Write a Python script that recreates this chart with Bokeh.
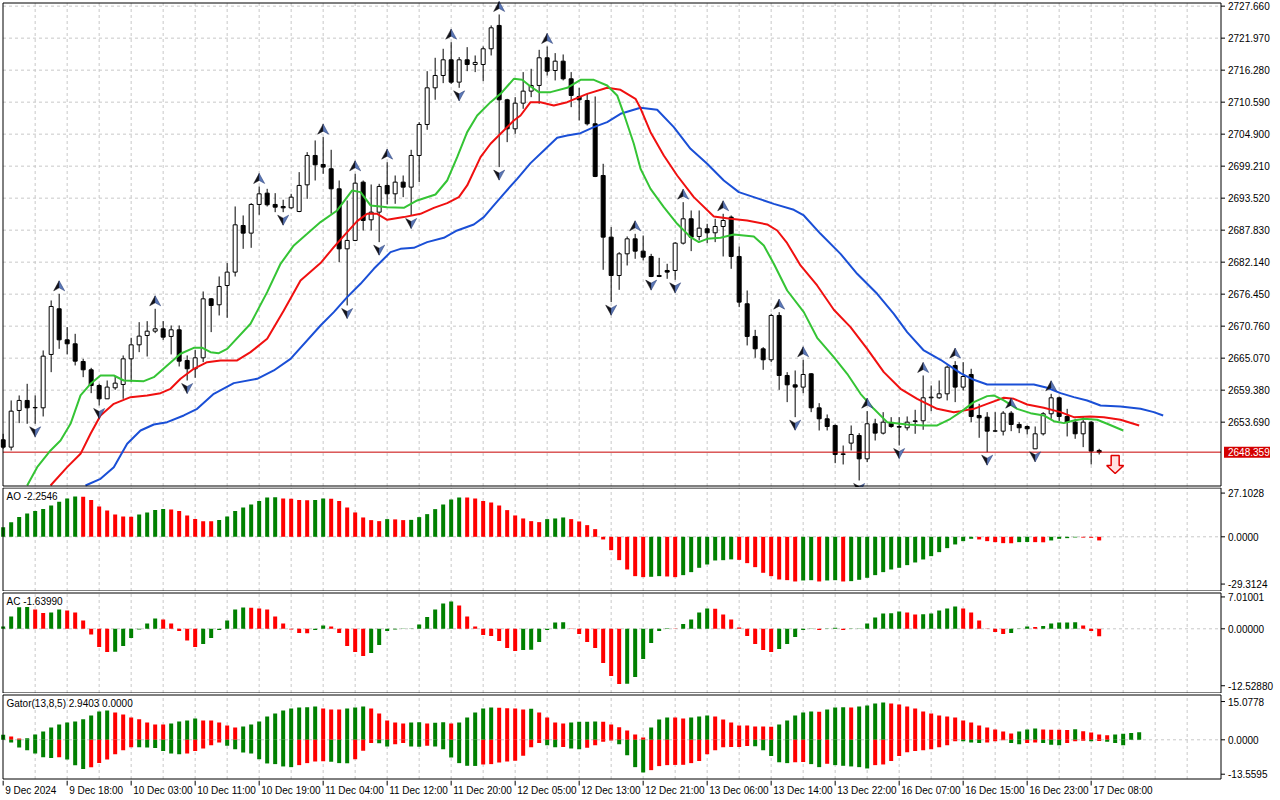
from bokeh.plotting import figure
from bokeh.models import Range1d
from bokeh.layouts import column
from bokeh.embed import file_html
from bokeh.resources import INLINE
from bokeh.core.properties import value

# ---------------- DATA ----------------
bars = list(range(138))
opens = [2650.55, 2649.25, 2655.77, 2657.55, 2656.24, 2656.24, 2665.73, 2673.85, 2668.33, 2667.62,
         2664.48, 2663.00, 2660.21, 2657.84, 2659.80, 2660.39, 2664.95, 2667.44, 2669.10, 2669.87,
         2670.29, 2668.93, 2670.11, 2664.66, 2663.18, 2665.13, 2675.62, 2674.56, 2677.99, 2680.37,
         2688.66, 2687.30, 2692.40, 2694.41, 2692.40, 2692.04, 2691.80, 2691.15, 2695.89, 2701.11,
         2699.51, 2698.74, 2695.18, 2684.51, 2686.00, 2696.37, 2689.67, 2691.03, 2695.78, 2694.29,
         2696.37, 2695.48, 2701.11, 2706.62, 2713.14, 2715.33, 2718.12, 2714.15, 2718.12, 2717.29,
         2717.29, 2720.08, 2724.23, 2711.01, 2705.85, 2710.41, 2712.55, 2713.56, 2718.48, 2716.22,
         2717.88, 2714.74, 2711.60, 2710.89, 2706.74, 2697.55, 2686.59, 2679.77, 2683.62, 2686.29,
         2684.10, 2683.15, 2679.77, 2680.66, 2680.66, 2685.52, 2689.85, 2686.71, 2688.07, 2687.36,
         2688.48, 2690.15, 2683.15, 2674.74, 2668.93, 2666.73, 2664.78, 2672.66, 2661.99, 2660.33,
         2659.92, 2662.29, 2656.24, 2654.29, 2653.10, 2647.94, 2649.96, 2651.32, 2647.17, 2653.40,
         2651.74, 2653.52, 2652.92, 2652.69, 2653.81, 2653.93, 2658.02, 2658.02, 2658.73, 2663.77,
         2659.92, 2662.17, 2654.88, 2654.58, 2652.09, 2652.09, 2655.29, 2653.28, 2652.92, 2648.95,
         2651.62, 2655.18, 2658.02, 2654.70, 2653.69, 2651.62, 2653.69, 2648.66]
highs = [2651.62, 2657.55, 2658.44, 2660.51, 2658.44, 2666.44, 2675.33, 2676.51, 2670.59, 2669.40,
         2664.95, 2663.35, 2660.51, 2661.10, 2661.81, 2665.55, 2668.69, 2671.47, 2671.65, 2673.85,
         2671.65, 2670.88, 2670.88, 2665.55, 2666.56, 2676.93, 2675.74, 2679.59, 2681.97, 2692.04,
         2690.44, 2692.63, 2695.60, 2695.18, 2694.41, 2693.23, 2694.29, 2698.15, 2701.70, 2703.78,
         2704.37, 2702.12, 2696.66, 2693.11, 2697.85, 2696.66, 2695.95, 2696.07, 2699.92, 2697.55,
         2697.55, 2702.12, 2707.04, 2716.10, 2718.48, 2720.08, 2721.26, 2718.60, 2720.37, 2718.89,
         2720.49, 2724.23, 2726.18, 2711.19, 2711.48, 2715.93, 2716.52, 2719.90, 2720.49, 2719.31,
         2719.07, 2715.93, 2713.14, 2712.07, 2711.60, 2699.63, 2688.37, 2683.92, 2686.71, 2687.18,
         2686.88, 2683.62, 2682.91, 2681.85, 2685.70, 2692.81, 2691.33, 2691.33, 2688.96, 2689.85,
         2690.74, 2690.44, 2684.93, 2677.10, 2670.11, 2667.03, 2672.96, 2673.25, 2662.58, 2662.88,
         2664.78, 2662.41, 2657.07, 2655.06, 2653.28, 2649.54, 2653.10, 2651.74, 2655.65, 2654.29,
         2655.47, 2654.58, 2654.58, 2654.70, 2655.89, 2661.99, 2660.21, 2661.10, 2663.77, 2664.54,
         2664.36, 2663.18, 2656.95, 2655.47, 2655.47, 2655.65, 2655.65, 2653.69, 2653.10, 2652.92,
         2655.47, 2658.73, 2658.26, 2656.06, 2654.29, 2654.70, 2653.87, 2648.95]
lows = [2648.95, 2648.66, 2653.52, 2653.40, 2653.40, 2654.70, 2662.58, 2666.73, 2665.73, 2663.77,
        2661.69, 2658.85, 2656.66, 2657.84, 2659.44, 2657.84, 2660.81, 2666.14, 2665.37, 2669.52,
        2668.33, 2665.73, 2663.59, 2661.10, 2661.58, 2664.36, 2669.70, 2672.66, 2672.25, 2679.59,
        2684.51, 2684.69, 2690.56, 2692.04, 2691.03, 2691.03, 2691.63, 2691.03, 2693.40, 2696.66,
        2697.85, 2690.74, 2682.14, 2674.44, 2685.88, 2687.77, 2687.77, 2685.70, 2692.40, 2692.52,
        2693.70, 2690.44, 2696.37, 2705.67, 2711.01, 2713.97, 2713.85, 2713.14, 2716.10, 2715.93,
        2714.33, 2718.89, 2699.04, 2703.48, 2704.96, 2709.41, 2711.48, 2710.30, 2715.33, 2714.45,
        2714.45, 2709.70, 2707.33, 2706.44, 2697.26, 2680.78, 2675.03, 2677.22, 2681.55, 2682.74,
        2682.44, 2679.48, 2679.48, 2679.18, 2679.00, 2685.28, 2684.10, 2686.00, 2685.52, 2685.70,
        2683.15, 2680.96, 2674.14, 2667.33, 2665.13, 2663.00, 2664.36, 2659.44, 2657.25, 2654.58,
        2658.85, 2655.47, 2652.21, 2652.21, 2646.40, 2646.17, 2648.66, 2643.32, 2646.58, 2650.43,
        2651.50, 2652.69, 2649.54, 2652.21, 2651.62, 2652.33, 2655.65, 2657.84, 2657.55, 2657.25,
        2659.32, 2653.69, 2650.91, 2648.36, 2651.92, 2651.32, 2652.09, 2651.74, 2651.50, 2648.95,
        2651.32, 2654.29, 2653.87, 2651.15, 2650.73, 2649.25, 2646.17, 2647.94]
closes = [2649.25, 2655.65, 2657.55, 2656.24, 2656.30, 2665.43, 2674.26, 2668.33, 2667.62, 2664.54,
          2663.00, 2660.21, 2657.84, 2659.92, 2660.63, 2664.95, 2667.44, 2668.99, 2669.87, 2670.29,
          2668.81, 2670.11, 2664.54, 2663.18, 2665.13, 2675.62, 2674.44, 2677.82, 2680.37, 2688.78,
          2687.30, 2692.40, 2694.29, 2692.34, 2691.92, 2691.80, 2693.70, 2695.78, 2701.11, 2699.45,
          2699.04, 2695.18, 2684.51, 2686.00, 2696.19, 2689.55, 2691.03, 2695.60, 2694.29, 2696.37,
          2695.48, 2701.11, 2706.62, 2713.14, 2715.33, 2718.12, 2714.15, 2718.12, 2717.29, 2717.65,
          2720.08, 2723.81, 2711.01, 2705.85, 2710.41, 2712.55, 2713.56, 2718.48, 2716.10, 2717.88,
          2714.74, 2711.78, 2711.01, 2706.74, 2697.38, 2686.59, 2679.77, 2683.62, 2686.29, 2684.10,
          2683.03, 2679.59, 2679.59, 2680.37, 2685.52, 2689.85, 2686.59, 2688.19, 2687.36, 2688.48,
          2689.55, 2683.15, 2675.03, 2668.93, 2666.73, 2664.78, 2672.66, 2661.99, 2660.33, 2659.92,
          2662.17, 2656.24, 2654.29, 2652.92, 2647.94, 2648.06, 2651.50, 2647.17, 2653.40, 2651.74,
          2653.69, 2652.92, 2652.80, 2653.69, 2653.93, 2658.02, 2658.14, 2658.73, 2663.47, 2659.92,
          2661.81, 2654.70, 2654.46, 2652.09, 2652.15, 2655.29, 2653.28, 2652.69, 2652.51, 2651.62,
          2655.18, 2658.02, 2654.70, 2653.69, 2651.62, 2653.69, 2648.54, 2648.359]

# Alligator lines (bar position, price)
jaw_bar = [10.29, 12.17, 13.83, 15.5, 17.17, 18.83, 20.5, 22.58, 24.25, 26.33, 28.83, 31.75, 33.83, 35.92,
           39.67, 41.33, 43.0, 44.67, 46.33, 48.42, 49.67, 51.33, 53.0, 55.08, 56.75, 58.83, 60.08, 61.33,
           62.58, 64.25, 65.92, 67.58, 69.25, 70.5, 72.17, 73.83, 75.5, 77.17, 78.83, 79.67, 81.75, 83.83,
           85.92, 88.0, 90.08, 91.96, 93.83, 96.33, 98.83, 100.08, 102.17, 104.67, 106.75, 109.25, 111.33,
           113.0, 115.08, 117.17, 119.67, 121.33, 123.0, 125.08, 128.83, 130.5, 132.17, 133.83, 135.5,
           137.17, 139.67, 142.17, 143.83, 145.0]
jaw_price = [2642.43, 2643.62, 2645.69, 2649.84, 2652.21, 2653.28, 2653.69, 2654.88, 2656.06, 2658.73,
             2660.63, 2661.40, 2662.88, 2664.95, 2670.88, 2673.25, 2675.92, 2678.29, 2680.96, 2683.92,
             2684.51, 2684.69, 2685.70, 2686.47, 2687.77, 2688.84, 2690.15, 2692.22, 2694.29, 2696.96,
             2699.75, 2702.00, 2704.25, 2704.67, 2705.08, 2706.15, 2707.04, 2708.52, 2709.23, 2709.59,
             2709.23, 2706.15, 2702.30, 2699.63, 2696.66, 2694.59, 2693.70, 2692.51, 2691.45, 2690.44,
             2687.18, 2683.62, 2680.07, 2676.51, 2672.96, 2669.70, 2666.44, 2664.78, 2662.41, 2661.22,
             2660.39, 2660.39, 2660.39, 2659.80, 2658.85, 2658.14, 2657.55, 2656.66, 2656.48, 2656.06,
             2655.47, 2654.88]
teeth_bar = [5.92, 8.0, 9.67, 10.92, 12.17, 13.83, 15.92, 18.0, 19.67, 20.92, 22.17, 23.83, 25.5, 27.17,
             29.25, 30.92, 33.0, 35.08, 37.17, 39.67, 41.33, 43.0, 44.25, 45.5, 46.75, 48.0, 50.08, 52.17,
             53.83, 55.5, 56.96, 58.0, 59.67, 60.92, 62.17, 63.83, 64.67, 65.92, 67.17, 68.83, 70.5, 73.0,
             75.5, 77.17, 79.04, 79.67, 80.92, 82.58, 84.25, 86.33, 88.83, 90.92, 93.0, 95.5, 96.75, 98.0,
             99.67, 101.75, 103.83, 105.92, 108.0, 110.08, 112.17, 114.25, 116.75, 118.83, 119.67, 121.33,
             123.0, 125.08, 126.33, 128.0, 130.08, 132.17, 133.83, 135.92, 137.58, 139.67, 142.0]
teeth_price = [2642.43, 2645.69, 2648.06, 2651.62, 2654.88, 2656.95, 2658.14, 2658.44, 2658.85, 2659.62,
               2661.40, 2663.18, 2664.36, 2664.66, 2664.66, 2666.14, 2668.51, 2673.55, 2678.88, 2681.97,
               2684.81, 2687.48, 2689.43, 2690.74, 2690.74, 2689.67, 2690.15, 2690.74, 2691.80, 2692.63,
               2693.70, 2695.78, 2700.81, 2703.19, 2704.96, 2707.33, 2708.22, 2710.59, 2710.59, 2710.00,
               2710.59, 2712.07, 2713.14, 2712.78, 2711.19, 2709.50, 2705.26, 2701.11, 2697.55, 2693.70,
               2690.26, 2689.85, 2689.55, 2688.84, 2687.77, 2685.52, 2681.55, 2678.00, 2673.67, 2670.59,
               2666.73, 2662.58, 2659.62, 2657.84, 2656.06, 2655.47, 2655.65, 2656.06, 2656.95, 2658.02,
               2657.84, 2656.83, 2656.24, 2655.47, 2654.58, 2654.70, 2654.58, 2654.11, 2653.10]
lips_bar = [3.0, 4.25, 5.92, 7.17, 8.42, 9.67, 10.92, 12.17, 13.83, 15.08, 17.58, 18.83, 20.5, 22.17, 23.83,
            24.9, 25.92, 26.96, 28.0, 30.92, 33.0, 34.67, 36.33, 38.0, 39.67, 41.75, 43.63, 44.67, 45.92,
            48.0, 50.08, 51.75, 54.04, 55.5, 56.75, 58.0, 59.25, 60.92, 62.17, 63.83, 64.88, 65.92, 66.96,
            68.42, 70.5, 72.17, 73.83, 75.5, 76.75, 77.58, 78.83, 79.67, 80.92, 82.58, 84.25, 85.92, 86.96,
            88.0, 89.67, 91.33, 93.83, 95.08, 96.33, 98.0, 100.08, 101.75, 103.83, 105.5, 107.17, 108.83,
            110.5, 113.0, 115.08, 116.75, 118.42, 119.67, 121.33, 123.0, 123.83, 125.08, 126.75, 128.42,
            130.08, 131.33, 132.58, 133.83, 135.08, 136.75, 138.0, 140.0]
lips_price = [2642.43, 2645.69, 2648.66, 2650.43, 2653.40, 2658.44, 2660.51, 2661.99, 2661.99, 2661.10,
              2660.98, 2661.69, 2663.77, 2665.85, 2666.91, 2666.91, 2666.14, 2665.96, 2666.73, 2671.18,
              2676.81, 2681.85, 2685.11, 2687.18, 2689.26, 2691.33, 2694.89, 2694.59, 2692.22, 2691.92,
              2691.80, 2693.11, 2694.17, 2696.66, 2700.81, 2705.26, 2708.22, 2710.59, 2712.07, 2714.74,
              2714.56, 2713.38, 2712.37, 2712.37, 2713.14, 2714.56, 2714.56, 2713.56, 2711.78, 2708.52,
              2703.19, 2698.74, 2695.18, 2691.92, 2688.96, 2686.59, 2685.70, 2686.29, 2686.47, 2687.06,
              2686.71, 2685.11, 2681.85, 2677.10, 2673.25, 2668.69, 2665.25, 2662.29, 2658.73, 2656.06,
              2653.69, 2653.28, 2653.10, 2653.10, 2654.29, 2655.47, 2657.25, 2658.32, 2658.44, 2657.55,
              2656.06, 2655.29, 2654.88, 2653.87, 2653.52, 2653.99, 2654.29, 2654.11, 2653.40, 2652.21]

fractal_up_bars = [7, 19, 32, 40, 44, 48, 56, 62, 68, 79, 85, 90, 97, 100, 108, 115, 119, 126, 131]
fractal_down_bars = [4, 12, 23, 35, 43, 47, 51, 57, 62, 76, 81, 84, 99, 107, 112, 123, 129]
signal_bar = [139]
signal_price = [2647.77]
last_price = 2648.359

price_ticks = [2727.66, 2721.97, 2716.28, 2710.59, 2704.90, 2699.21, 2693.52, 2687.83, 2682.14,
               2676.45, 2670.76, 2665.07, 2659.38, 2653.69]

ao = [5.99, 9.09, 12.20, 14.47, 15.92, 17.16, 19.43, 21.70, 23.77, 25.01,
      24.90, 22.74, 18.81, 16.33, 13.85, 12.61, 12.50, 13.85, 15.09, 16.54,
      17.16, 17.00, 15.92, 13.23, 10.96, 9.71, 9.60, 10.34, 12.61, 15.92,
      18.19, 20.05, 22.12, 24.39, 24.50, 23.77, 23.60, 22.74, 22.60, 22.80,
      23.77, 23.60, 22.12, 18.19, 15.09, 11.99, 10.34, 9.71, 10.96, 10.80,
      10.34, 10.50, 12.20, 14.06, 17.16, 20.05, 23.15, 24.39, 24.30, 23.77,
      22.12, 21.29, 19.43, 16.54, 13.23, 11.37, 9.71, 9.09, 10.96, 11.37,
      11.99, 10.96, 9.51, 7.23, 4.75, -1.65, -8.27, -14.47, -20.26, -24.39,
      -25.01, -24.80, -24.39, -24.60, -25.01, -23.77, -21.91, -19.22, -17.16, -14.68,
      -14.50, -14.00, -14.30, -16.33, -18.81, -22.32, -24.39, -26.46, -26.87, -27.70,
      -27.08, -26.90, -27.70, -27.08, -26.90, -27.70, -27.49, -26.66, -25.42, -23.77,
      -21.91, -20.26, -19.22, -17.57, -15.92, -14.06, -11.99, -9.51, -7.03, -4.75,
      -2.69, -1.24, -1.65, -2.69, -3.31, -3.93, -4.00, -3.31, -3.20, -3.31,
      -3.40, -2.27, -1.24, -0.83, -0.41, -0.50, -0.62, -2.2546]
ao_dir = ("GGGGGGGGGG" "RRRRRRR" "GGGG" "RRRRRR" "GGGGGGGG" "RRRR" "GG" "RRRRRRR" "G" "RR"
          "GGGGGGG" "RRRRRRRRRR" "GGG" "RRRRRRRRRR" "GG" "RR" "GGGGGGG" "RRRRRRRR" "GG" "R"
          "GG" "R" "GGGGGGGGGGGGGGGG" "RRRRR" "GG" "RR" "GGGG" "RRR")
ao_ticks = [27.1028, 0.0, -29.3124]
ao_tick_labels = ["27.1028", "0.0000", "-29.3124"]

ac = [0.51, 2.71, 4.76, 4.80, 4.25, 3.45, 3.59, 4.25, 4.03, 3.59,
      1.83, -1.25, -4.03, -5.13, -5.05, -3.81, -2.05, -0.15, 1.17, 2.27,
      2.05, 1.17, -0.51, -2.57, -4.03, -3.37, -2.05, -0.29, 1.83, 4.25,
      4.69, 4.65, 4.47, 4.25, 2.71, 1.17, -0.15, -0.95, -1.00, -0.29,
      0.73, 0.51, -0.95, -3.81, -5.13, -6.01, -5.35, -3.59, -0.51, -0.15,
      -0.07, -0.05, 0.95, 2.57, 4.25, 5.57, 6.01, 5.13, 2.71, 0.51,
      -1.39, -1.61, -2.71, -4.25, -4.91, -4.69, -4.60, -2.93, -0.29, 1.39,
      1.45, -0.07, -1.17, -2.93, -4.25, -7.55, -10.41, -12.17, -12.10, -10.63,
      -6.67, -3.15, -0.51, 0.10, 0.05, 1.03, 2.05, 3.59, 4.47, 4.40,
      3.15, 2.05, 0.29, -1.61, -3.37, -4.69, -5.13, -4.47, -3.37, -1.83,
      -0.29, 0.05, -0.29, -0.07, 0.22, -0.29, -0.07, 0.05, 1.17, 2.49,
      3.37, 3.40, 3.81, 3.59, 3.15, 3.20, 3.37, 4.03, 4.47, 4.91,
      4.47, 3.59, 1.83, -0.07, -0.73, -1.17, -0.95, -0.07, 0.51, 0.37,
      0.59, 1.17, 1.39, 1.40, 1.42, 0.73, -0.51, -1.6399]
ac_dir = ("GGGG" "RR" "GG" "RRRRRR" "GGGGGG" "RRRRR" "GGGGGG" "RRRRRRRR" "GG" "RRRRR"
          "GGGGGGGGGGG" "RRRRRRRR" "GGGGGG" "RRRRRRR" "GGGGGG" "R" "GGGG" "RRRRRRRR" "GGGGG" "R"
          "GG" "R" "GGGGGGG" "RR" "GGGGG" "RRRRRR" "GGG" "R" "GGGGG" "RRR")
ac_ticks = [7.01001, 0.0, -12.5288]
ac_tick_labels = ["7.01001", "0.00000", "-12.52880"]

gator_bars = list(range(143))
gator_upper = [1.97, 1.31, 0.50, 0.60, 2.10, 3.28, 4.86, 6.04, 6.83, 7.22,
               8.14, 9.58, 11.16, 11.55, 10.77, 9.98, 8.80, 8.14, 6.83, 6.04,
               6.00, 6.43, 7.22, 7.62, 8.40, 7.62, 7.60, 6.83, 5.65, 4.86,
               5.25, 6.04, 7.22, 9.19, 10.37, 11.55, 12.34, 12.74, 12.80, 13.13,
               12.34, 11.95, 11.90, 12.34, 12.74, 13.13, 12.34, 10.37, 7.62, 6.83,
               6.43, 6.83, 6.96, 6.43, 6.70, 6.96, 6.43, 6.83, 8.80, 10.77,
               12.34, 12.74, 12.60, 12.47, 12.34, 11.95, 12.20, 10.77, 8.80, 6.83,
               6.43, 6.83, 7.09, 7.16, 7.22, 7.15, 6.04, 4.99, 3.68, 2.10,
               0.92, 4.86, 8.01, 8.80, 8.75, 8.40, 8.80, 9.19, 9.58, 9.19,
               8.01, 6.83, 5.65, 5.60, 5.25, 5.20, 5.15, 6.04, 7.62, 9.58,
               10.77, 11.16, 11.10, 11.95, 12.74, 12.80, 12.70, 13.13, 13.52, 14.31,
               14.71, 14.31, 13.92, 13.13, 12.34, 11.16, 10.37, 9.58, 9.19, 8.80,
               7.62, 6.83, 5.65, 4.86, 4.07, 3.28, 2.49, 3.28, 4.07, 4.46,
               4.07, 4.00, 3.95, 3.90, 4.20, 3.41, 2.89, 2.10, 1.84, 2.10,
               2.36, 2.63, 2.9403]
gator_upper_dir = ("G" "RR" "GGGGGGGGGGG" "RRRRRRR" "GGGG" "RRRRR" "GGGGGGGGGG" "RRR" "GGG" "RRRRR"
                   "GG" "R" "GG" "R" "GGGGG" "RRRR" "G" "RRRR" "GGGG" "RRRRRR" "GGG" "RR" "GGG"
                   "RRRRRRRR" "GGGGG" "R" "GGG" "R" "GGGG" "RRRRRRRRRRRRRRRR" "GGG" "RRRR" "G"
                   "RRRR" "GGGG")
gator_lower = [0.00, -1.05, -3.02, -4.07, -5.38, -6.83, -7.22, -6.83, -7.75, -9.98,
               -11.55, -10.77, -9.19, -7.75, -5.65, -4.07, -2.89, -2.95, -3.00, -3.28,
               -4.46, -5.38, -5.65, -5.38, -4.46, -3.41, -2.10, -1.05, -2.36, -3.68,
               -4.99, -5.38, -7.62, -9.32, -9.58, -10.50, -10.77, -9.98, -9.19, -8.53,
               -8.50, -8.60, -9.19, -9.25, -7.62, -4.33, -1.31, -1.40, -2.63, -1.71,
               -1.31, -2.63, -2.70, -2.36, -2.63, -3.68, -6.96, -9.19, -10.24, -10.30,
               -9.72, -9.58, -8.93, -8.53, -8.27, -6.30, -2.89, -1.31, -2.10, -2.89,
               -2.80, -3.41, -3.68, -3.15, -2.10, -0.79, -0.26, -1.71, -6.04, -10.77,
               -12.87, -11.95, -10.37, -9.98, -9.90, -9.85, -9.19, -8.40, -5.65, -4.07,
               -2.89, -2.85, -2.80, -2.49, -2.55, -4.07, -6.43, -8.80, -9.19, -8.80,
               -8.75, -9.58, -10.77, -9.45, -9.98, -10.24, -10.50, -10.77, -11.29, -9.98,
               -9.72, -8.40, -6.43, -4.86, -4.46, -4.07, -3.68, -2.89, -2.10, -0.53,
               -0.60, -1.05, -1.31, -1.05, -0.53, -0.13, -1.31, -1.71, -1.31, -1.05,
               -1.31, -1.97, -2.10, -1.31, -0.53, -0.39, -0.53, -0.45, -0.79, -1.31,
               -2.10, 0.00, 0.00]
gator_lower_dir = ("G" "GGGGGG" "R" "GGG" "RRRRRR" "GGGGGG" "RRRRR" "GGGGGGGGG" "RRRR" "GGG" "RRR"
                   "GG" "RR" "GG" "R" "GGGGGG" "RRRRRRRR" "GG" "R" "GG" "RRRR" "GGGG" "RRRRRRRRRRRRR"
                   "GGGGG" "RR" "GG" "R" "GGGGG" "RRRRRRRRRRR" "GGG" "RRR" "GG" "RR" "GGG" "RRR" "G"
                   "R" "GGG" "RR")
gator_ticks = [15.0778, 0.0, -13.5595]
gator_tick_labels = ["15.0778", "0.0000", "-13.5595"]

time_bars = [0, 8, 16, 24, 32, 40, 48, 56, 64, 72, 80, 88, 96, 104, 112, 120, 128, 136]
time_labels = ["9 Dec 2024", "9 Dec 18:00", "10 Dec 03:00", "10 Dec 11:00", "10 Dec 19:00",
               "11 Dec 04:00", "11 Dec 12:00", "11 Dec 20:00", "12 Dec 05:00", "12 Dec 13:00",
               "12 Dec 21:00", "13 Dec 06:00", "13 Dec 14:00", "13 Dec 22:00", "16 Dec 07:00",
               "16 Dec 15:00", "16 Dec 23:00", "17 Dec 08:00"]
grid_bars = list(range(4, 152, 4))

assert len(opens) == len(highs) == len(lows) == len(closes) == 138
assert len(ao) == len(ao_dir) == 138 and len(ac) == len(ac_dir) == 138
assert len(gator_upper) == len(gator_upper_dir) == len(gator_lower) == len(gator_lower_dir) == 143

# ---------------- STYLE / LAYOUT ----------------
W = 1280
PX_PER_BAR = 8.0
BAR0_PX = 2.67                        # pixel x of bar 0


def px2bar(px):
    return (px - BAR0_PX) / PX_PER_BAR


XR = Range1d(px2bar(0), px2bar(W))
XL = px2bar(2.5)                      # left frame edge
XA = px2bar(1220.5)                   # right axis line
bpx = 1 / PX_PER_BAR
FONT = "Liberation Sans"
FS = "10px"
GRID_COL = "#c8c8c8"
GREEN = "#008000"
RED = "#ff0000"


def make_panel(h, ylo, yhi):
    p = figure(width=W, height=h, x_range=XR, y_range=Range1d(ylo, yhi),
               output_backend="svg", toolbar_location=None, x_axis_location=None,
               y_axis_location=None, min_border_left=0, min_border_right=0,
               min_border_top=0, min_border_bottom=0)
    p.outline_line_color = None
    p.grid.visible = False
    p.background_fill_color = "white"
    p.border_fill_color = "white"
    return p


def draw_grid(p, ytop, ybot, hgrid):
    vg = [g for g in grid_bars if g < XA]
    p.segment(x0=vg, y0=[ybot] * len(vg), x1=vg, y1=[ytop] * len(vg),
              line_color=GRID_COL, line_dash="3 3", line_width=1)
    p.segment(x0=[XL] * len(hgrid), y0=hgrid, x1=[XA] * len(hgrid), y1=hgrid,
              line_color=GRID_COL, line_dash="3 3", line_width=1)


def draw_frame_axis(p, ytop, ybot, ticks, labels):
    p.segment(x0=[XL, XL, XL, XA], y0=[ybot, ytop, ybot, ybot],
              x1=[XL, XA, XA, XA], y1=[ytop, ytop, ybot, ytop],
              line_color="black", line_width=1)
    k = len(ticks)
    p.segment(x0=[XA] * k, y0=ticks, x1=[XA + 4 * bpx] * k, y1=ticks, line_color="black", line_width=1)
    p.text(x=[XA] * k, y=ticks, text=labels, x_offset=7, text_baseline="middle", text_align="left",
           text_font=value(FONT), text_font_size=FS, text_color="black")


def title(p, ytop, upp, text):
    p.text(x=[px2bar(6)], y=[ytop - 3 * upp], text=[text], text_baseline="top", text_align="left",
           text_font=value(FONT), text_font_size=FS, text_color="black")


# ---------------- MAIN PRICE PANEL ----------------
H1 = 487
ppx = (2728.31 - 2642.25) / 484.0       # price per pixel; px 2 -> 2728.31, px 486 -> 2642.25
Y1_TOP = 2728.31 + 2 * ppx
Y1_BOT = Y1_TOP - H1 * ppx
ytop1 = Y1_TOP - 2.5 * ppx
ybot1 = Y1_TOP - 485.5 * ppx
p1 = make_panel(H1, Y1_BOT, Y1_TOP)
draw_grid(p1, ytop1, ybot1, price_ticks)

p1.segment(x0=bars, y0=highs, x1=bars, y1=lows, line_color="black", line_width=1)
tops = [max(o, c) for o, c in zip(opens, closes)]
bots = [min(o, c) for o, c in zip(opens, closes)]
fills = ["white" if c > o else "black" for o, c in zip(opens, closes)]
p1.vbar(x=bars, top=tops, bottom=bots, width=0.5, fill_color=fills, line_color="black", line_width=1)

p1.segment(x0=[XL], y0=[last_price], x1=[XA], y1=[last_price], line_color="#c80000", line_width=1)

p1.line(jaw_bar, jaw_price, line_color="#1a4fd6", line_width=2)
p1.line(teeth_bar, teeth_price, line_color="#f01010", line_width=2)
p1.line(lips_bar, lips_price, line_color="#35c435", line_width=2)

lx, ly, rx, ry = [], [], [], []
for b in fractal_up_bars:
    cy = highs[b] + 8 * ppx
    lx.append([b, b, b - 5.5 * bpx]); ly.append([cy + 5 * ppx, cy - 2 * ppx, cy - 5 * ppx])
    rx.append([b, b + 5.5 * bpx, b]); ry.append([cy + 5 * ppx, cy - 5 * ppx, cy - 2 * ppx])
for b in fractal_down_bars:
    cy = lows[b] - 8 * ppx
    lx.append([b, b, b - 5.5 * bpx]); ly.append([cy - 5 * ppx, cy + 2 * ppx, cy + 5 * ppx])
    rx.append([b, b + 5.5 * bpx, b]); ry.append([cy - 5 * ppx, cy + 5 * ppx, cy + 2 * ppx])
p1.patches(lx, ly, fill_color="#121218", line_color="#121218", line_width=0.5)
p1.patches(rx, ry, fill_color="#5a78b8", line_color="#24366e", line_width=0.5)

sx, sy = [], []
for b, top in zip(signal_bar, signal_price):
    dx = [-4, 4, 4, 8.5, 0, -8.5, -4]
    dy = [0, 0, -10, -10, -18, -10, -10]
    sx.append([b + d * bpx for d in dx])
    sy.append([top + d * ppx for d in dy])
p1.patches(sx, sy, fill_color="#ffe2e2", line_color="#e00000", line_width=1.5)

draw_frame_axis(p1, ytop1, ybot1, price_ticks, [f"{t:.3f}" for t in price_ticks])
p1.quad(left=[XA + 3 * bpx], right=[XA + 49 * bpx], top=[last_price + 5.5 * ppx],
        bottom=[last_price - 5.5 * ppx], fill_color="#d40000", line_color=None)
p1.text(x=[XA], y=[last_price], text=[f"{last_price:.3f}"], x_offset=7, text_baseline="middle",
        text_align="left", text_font=value(FONT), text_font_size=FS, text_color="white")


# ---------------- indicator panels ----------------
def indicator_panel(h, zero_px, upp, top_edge_px, bot_edge_px):
    yhi = zero_px * upp
    ylo = yhi - h * upp
    p = make_panel(h, ylo, yhi)
    return p, yhi - top_edge_px * upp, yhi - bot_edge_px * upp


# AO: page y 487..591, zero at page 536.3
H2 = 104
upp2 = 0.62
p2, ytop2, ybot2 = indicator_panel(H2, 536.3 - 487, upp2, 0.5, 103.5)
draw_grid(p2, ytop2, ybot2, [0.0])
p2.vbar(x=bars, top=ao, bottom=0, width=0.5,
        fill_color=[GREEN if d == "G" else RED for d in ao_dir], line_color=None)
draw_frame_axis(p2, ytop2, ybot2, ao_ticks, ao_tick_labels)
title(p2, ytop2, upp2, f"AO {ao[-1]:.4f}")

# AC: page y 591..693, zero at page 628.3
H3 = 102
upp3 = 0.22
p3, ytop3, ybot3 = indicator_panel(H3, 628.3 - 591, upp3, 1.5, 101.5)
draw_grid(p3, ytop3, ybot3, [0.0])
p3.vbar(x=bars, top=ac, bottom=0, width=0.5,
        fill_color=[GREEN if d == "G" else RED for d in ac_dir], line_color=None)
draw_frame_axis(p3, ytop3, ybot3, ac_ticks, ac_tick_labels)
title(p3, ytop3, upp3, f"AC {ac[-1]:.5f}")

# Gator: page y 693..780, zero at page 739.3
H4 = 87
upp4 = 0.394
p4, ytop4, ybot4 = indicator_panel(H4, 739.3 - 693, upp4, 1.5, 85.5)
draw_grid(p4, ytop4, ybot4, [0.0])
p4.vbar(x=gator_bars, top=gator_upper, bottom=0, width=0.5,
        fill_color=[GREEN if d == "G" else RED for d in gator_upper_dir], line_color=None)
p4.vbar(x=gator_bars, top=0, bottom=gator_lower, width=0.5,
        fill_color=[GREEN if d == "G" else RED for d in gator_lower_dir], line_color=None)
draw_frame_axis(p4, ytop4, ybot4, gator_ticks, gator_tick_labels)
title(p4, ytop4, upp4, f"Gator(13,8,5) {gator_upper[-1]:.4f} {abs(gator_lower[-1]):.4f}")

# ---------------- time axis strip ----------------
H5 = 20
p5 = make_panel(H5, 0, H5)
m = len(time_bars)
p5.segment(x0=time_bars, y0=[H5] * m, x1=time_bars, y1=[H5 - 5] * m, line_color="black", line_width=1)
p5.text(x=[b + 0.25 for b in time_bars], y=[H5 - 9.5] * m, text=time_labels, text_baseline="middle",
        text_align="left", text_font=value(FONT), text_font_size=FS, text_color="black")

layout = column(p1, p2, p3, p4, p5, spacing=0)
open("out.html", "w").write(file_html(layout, INLINE, title="XAUUSD H1"))
